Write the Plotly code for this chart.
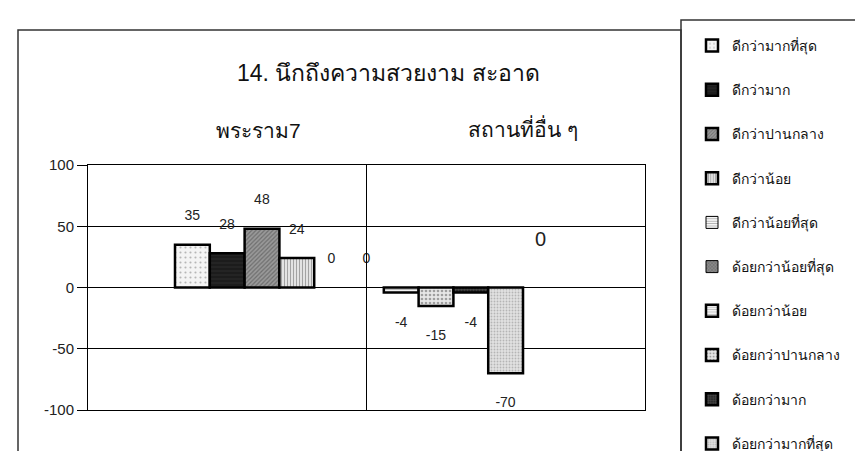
import plotly.graph_objects as go

title = "14. นึกถึงความสวยงาม สะอาด"
groups = ["พระราม7", "สถานที่อื่น ๆ"]
series = ["ดีกว่ามากที่สุด", "ดีกว่ามาก", "ดีกว่าปานกลาง", "ดีกว่าน้อย", "ดีกว่าน้อยที่สุด",
          "ด้อยกว่าน้อยที่สุด", "ด้อยกว่าน้อย", "ด้อยกว่าปานกลาง", "ด้อยกว่ามาก", "ด้อยกว่ามากที่สุด"]
values = [35, 28, 48, 24, 0, 0, -4, -15, -4, -70]
extra_label = "0"
yticks = [-100, -50, 0, 50, 100]
ytick_text = ["-100", "-50", "0", "50", "100"]

styles = [
    dict(color="#f4f4f4", pattern=dict(shape=".", fgcolor="#777", size=5, solidity=0.15)),
    dict(color="#1c1c1c", pattern=dict(shape="-", fgcolor="#444", size=4, solidity=0.2)),
    dict(color="#9a9a9a", pattern=dict(shape="/", fgcolor="#444", size=3, solidity=0.4)),
    dict(color="#f0f0f0", pattern=dict(shape="|", fgcolor="#555", size=3, solidity=0.45)),
    dict(color="#f5f5f5", pattern=dict(shape="-", fgcolor="#555", size=3, solidity=0.3)),
    dict(color="#8a8a8a", pattern=dict(shape="x", fgcolor="#333", size=3, solidity=0.3)),
    dict(color="#f2f2f2", pattern=dict(shape="-", fgcolor="#666", size=3, solidity=0.25)),
    dict(color="#e6e6e6", pattern=dict(shape=".", fgcolor="#555", size=4, solidity=0.35)),
    dict(color="#2a2a2a", pattern=dict(shape="+", fgcolor="#777", size=3, solidity=0.3)),
    dict(color="#e2e2e2", pattern=dict(shape=".", fgcolor="#888", size=3, solidity=0.3)),
]

FONT = "Liberation Sans, Arial, Noto Sans, sans-serif"

fig = go.Figure()
for i, (name, v) in enumerate(zip(series, values)):
    txt = f"{v}<br>\u00a0" if v >= 0 else f"\u00a0<br>{v}"
    fig.add_trace(go.Bar(
        x=[""], y=[v], name=name, legendgroup=f"g{i}",
        marker=dict(color=styles[i]["color"], pattern=styles[i]["pattern"],
                    line=dict(color="black", width=2.5 if v != 0 else 1)),
        text=[txt], textposition="outside", cliponaxis=False,
        textfont=dict(family=FONT, size=14, color="#222"),
        hoverinfo="name+y",
    ))

W, H = 863, 451
L, R, T, B = 80, 863 - 637, 157, 451 - 402
pw, ph = W - L - R, H - T - B
def px(x):
    return (x - L) / pw
def py(y):
    return (H - B - y) / ph

fig.update_layout(
    width=W, height=H, margin=dict(l=L, r=R, t=T, b=B),
    paper_bgcolor="white", plot_bgcolor="white",
    barmode="group", bargap=0.3752, bargroupgap=0,
    showlegend=True,
    legend=dict(x=px(684), xanchor="left", y=py(26), yanchor="top",
                font=dict(family=FONT, size=14, color="#111"),
                tracegroupgap=23, bgcolor="rgba(0,0,0,0)", itemclick=False,
                maxheight=440),
    xaxis=dict(range=[-0.4686, 0.5314], showticklabels=False, showgrid=False,
               showline=True, linecolor="black", linewidth=1, mirror=True, zeroline=False),
    yaxis=dict(range=[-100, 100], tickvals=yticks, ticktext=ytick_text, ticks="outside", ticklen=10,
               tickcolor="black", showgrid=True, gridcolor="black", gridwidth=1,
               zeroline=True, zerolinecolor="black", zerolinewidth=1,
               showline=True, linecolor="black", linewidth=1, mirror=True,
               tickfont=dict(family=FONT, size=15, color="#222")),
    font=dict(family=FONT),
    shapes=[
        dict(type="line", xref="paper", yref="paper", x0=0.5, x1=0.5, y0=0, y1=1,
             line=dict(color="black", width=1)),
        dict(type="rect", xref="paper", yref="paper", x0=px(10), x1=px(673), y0=py(449), y1=py(22),
             line=dict(color="#333", width=1.5)),
        dict(type="rect", xref="paper", yref="paper", x0=px(673), x1=px(875), y0=py(449), y1=py(12),
             line=dict(color="#333", width=1.5)),
    ],
    annotations=[
        dict(text=title, xref="paper", yref="paper", x=px(380), y=py(65), showarrow=False,
             font=dict(family=FONT, size=23, color="#111"), xanchor="center", yanchor="middle"),
        dict(text=groups[0], xref="paper", yref="paper", x=px(250), y=py(122), showarrow=False,
             font=dict(family=FONT, size=21, color="#111"), xanchor="center", yanchor="middle"),
        dict(text=groups[1], xref="paper", yref="paper", x=px(515), y=py(120), showarrow=False,
             font=dict(family=FONT, size=21, color="#111"), xanchor="center", yanchor="middle"),
        dict(text=extra_label, xref="paper", yref="paper", x=px(532), y=py(231), showarrow=False,
             font=dict(family=FONT, size=20, color="#222"), xanchor="center", yanchor="middle"),
    ],
)

fig.write_html("out.html")
